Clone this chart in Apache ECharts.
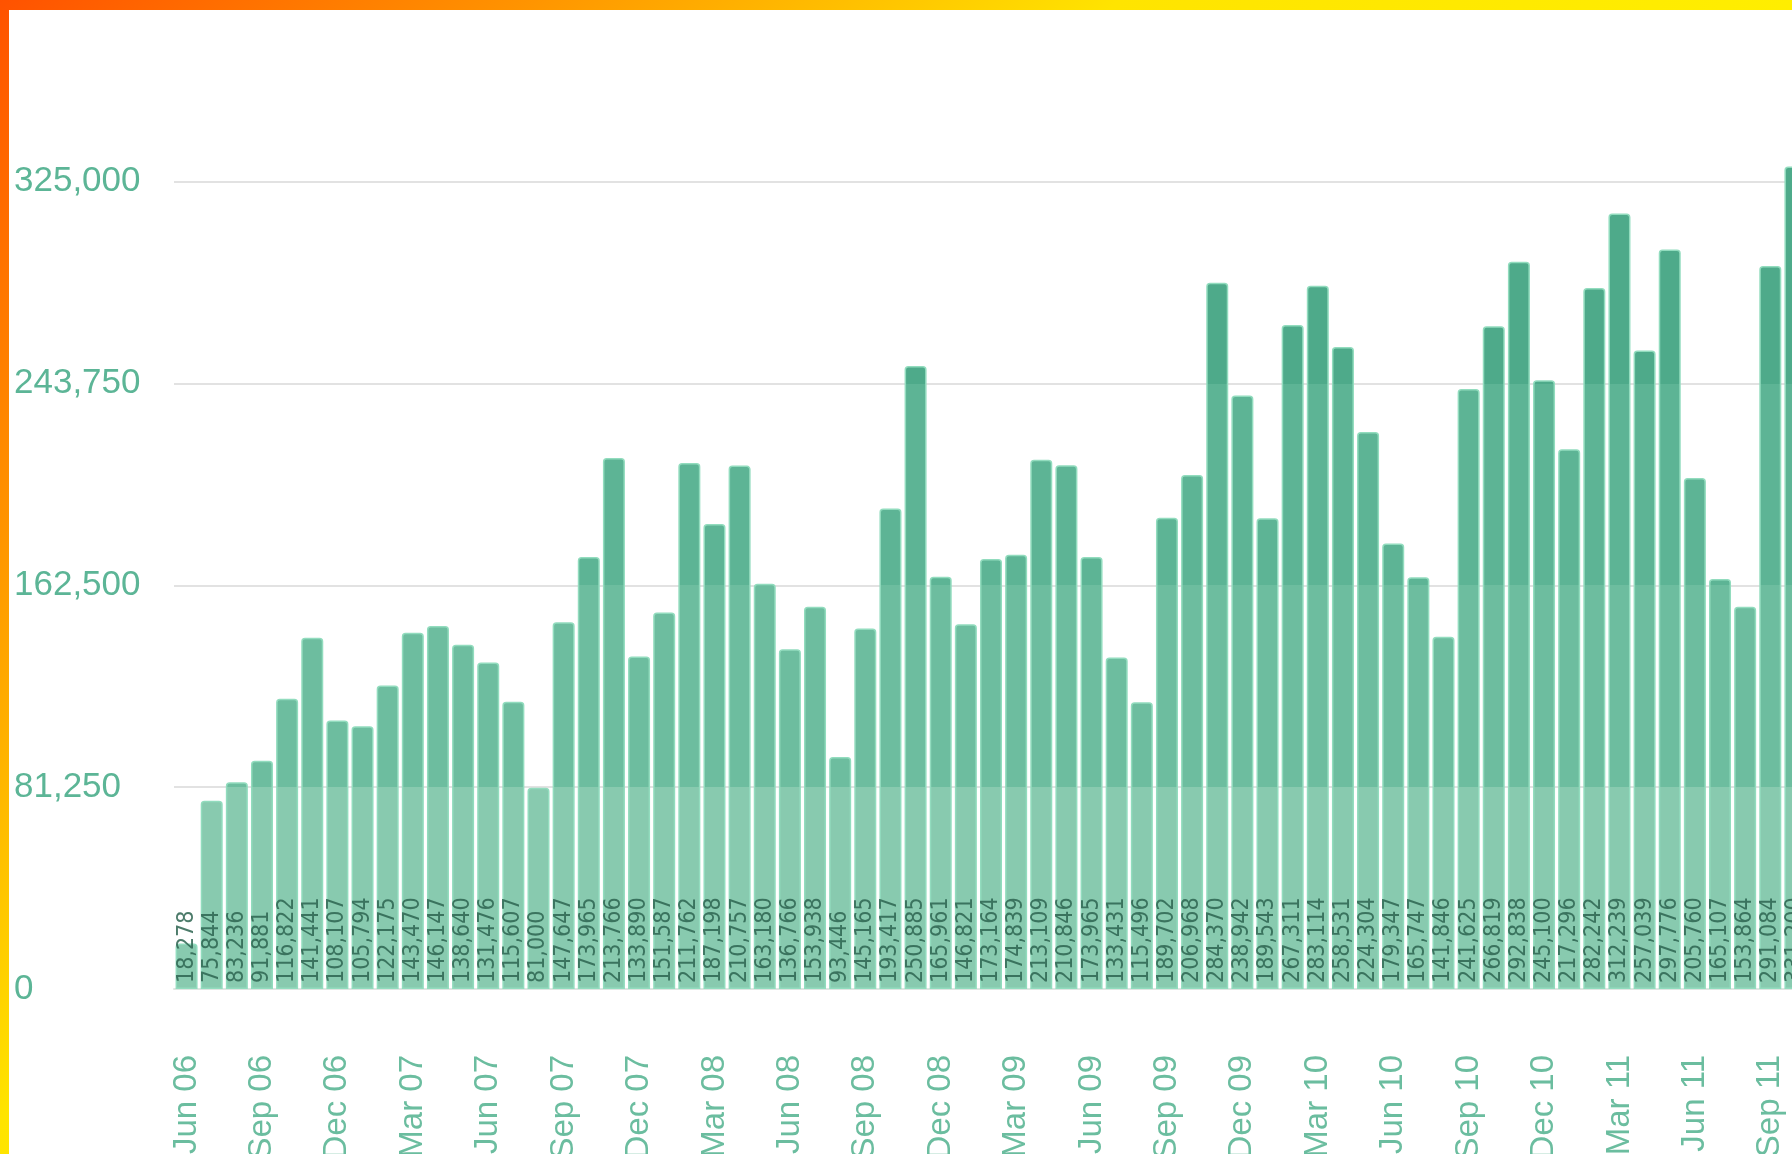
<!DOCTYPE html>
<html>
<head>
<meta charset="utf-8">
<script src="https://cdn.jsdelivr.net/npm/echarts@6/dist/echarts.min.js"></script>
<style>
  html, body { margin: 0; padding: 0; width: 1792px; height: 1154px; overflow: hidden; }
  body { background: linear-gradient(135deg, #ff5200 0%, #ff9400 18%, #ffe400 38%, #ffff00 100%); position: relative; }
  #panel { position: absolute; left: 9px; top: 10px; right: 0; bottom: 0; background: #fff; overflow: hidden; }
  #chart { position: absolute; left: -9px; top: -50px; width: 1900px; height: 1250px; }
</style>
</head>
<body>
<div id="panel"><div id="chart"></div></div>
<script>
const months = [
  'Jun 06','Jul 06','Aug 06','Sep 06','Oct 06','Nov 06','Dec 06',
  'Jan 07','Feb 07','Mar 07','Apr 07','May 07','Jun 07','Jul 07','Aug 07','Sep 07','Oct 07','Nov 07','Dec 07',
  'Jan 08','Feb 08','Mar 08','Apr 08','May 08','Jun 08','Jul 08','Aug 08','Sep 08','Oct 08','Nov 08','Dec 08',
  'Jan 09','Feb 09','Mar 09','Apr 09','May 09','Jun 09','Jul 09','Aug 09','Sep 09','Oct 09','Nov 09','Dec 09',
  'Jan 10','Feb 10','Mar 10','Apr 10','May 10','Jun 10','Jul 10','Aug 10','Sep 10','Oct 10','Nov 10','Dec 10',
  'Jan 11','Feb 11','Mar 11','Apr 11','May 11','Jun 11','Jul 11','Aug 11','Sep 11','Oct 11'
];
const visits = [
  18278, 75844, 83236, 91881, 116822, 141441, 108107,
  105794, 122175, 143470, 146147, 138640, 131476, 115607, 81000, 147647, 173965, 213766, 133890,
  151587, 211762, 187198, 210757, 163180, 136766, 153938, 93446, 145165, 193417, 250885, 165961,
  146821, 173164, 174839, 213109, 210846, 173965, 133431, 115496, 189702, 206968, 284370, 238942,
  189543, 267311, 283114, 258531, 224304, 179347, 165747, 141846, 241625, 266819, 292838, 245100,
  217296, 282242, 312239, 257039, 297776, 205760, 165107, 153864, 291084, 331200
];
const yTicks = [0, 81250, 162500, 243750, 325000];
const yStep = 81250;
const yMax = 406250;

// band colours, top band first
const bandColors = ['#4eaa8a', '#5db495', '#6dbd9f', '#88caaf'];

const myChart = echarts.init(document.getElementById('chart'));

function fmt(v) {
  return v.toLocaleString('en-US');
}

myChart.setOption({
  animation: false,
  backgroundColor: 'transparent',
  grid: {
    left: 174,
    top: 20,
    bottom: 221,
    right: 92
  },
  xAxis: {
    type: 'category',
    data: months,
    axisTick: { show: false },
    axisLine: { lineStyle: { color: '#dfe6e2', width: 2 } },
    axisLabel: {
      interval: 2,
      rotate: 90,
      margin: 66,
      color: '#6bbd9f',
      fontSize: 33,
      fontFamily: 'Liberation Sans, Arial, sans-serif'
    }
  },
  yAxis: {
    type: 'value',
    min: 0,
    max: yMax,
    interval: yStep,
    axisLine: { show: false },
    axisTick: { show: false },
    splitLine: { lineStyle: { color: '#e2e2e2', width: 2 } },
    axisLabel: {
      align: 'left',
      margin: 160,
      color: '#5cb596',
      fontSize: 35,
      fontFamily: 'Liberation Sans, Arial, sans-serif',
      formatter: v => yTicks.indexOf(v) >= 0 ? fmt(v) : ''
    }
  },
  series: [{
    type: 'bar',
    data: visits,
    barWidth: 22,
    itemStyle: {
      color: bandColors[0],
      borderColor: '#92dcbe',
      borderWidth: 1.5,
      borderRadius: [3, 3, 0, 0]
    },
    label: {
      show: true,
      position: 'insideBottom',
      rotate: 90,
      align: 'left',
      verticalAlign: 'middle',
      distance: 6,
      color: 'rgba(45,100,80,0.85)',
      fontSize: 23,
      fontFamily: 'Liberation Sans Narrow, DejaVu Sans Condensed, Liberation Sans, Arial, sans-serif',
      formatter: p => fmt(p.value)
    }
  }]
});

// stepped shading, one band per grid line, placed through the value axis
const yTop = myChart.convertToPixel({ yAxisIndex: 0 }, yMax);
const yZero = myChart.convertToPixel({ yAxisIndex: 0 }, 0);
const stops = [];
for (let i = 0; i < 4; i++) {
  const a = (yMax - yTicks[4 - i]) / yMax;
  const b = (yMax - yTicks[3 - i]) / yMax;
  stops.push({ offset: i === 0 ? 0 : a, color: bandColors[i] });
  stops.push({ offset: b, color: bandColors[i] });
}
myChart.setOption({
  series: [{
    itemStyle: {
      color: new echarts.graphic.LinearGradient(0, yTop, 0, yZero, stops, true)
    }
  }]
});

window.addEventListener('resize', () => myChart.resize());
</script>
</body>
</html>
